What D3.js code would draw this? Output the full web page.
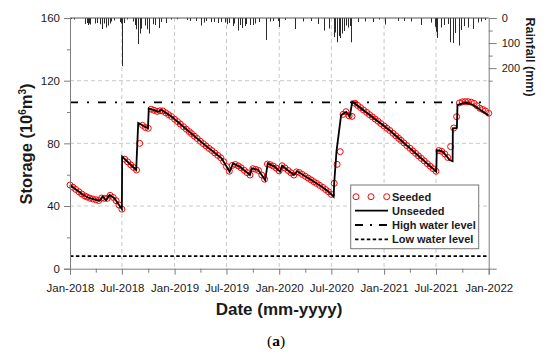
<!DOCTYPE html>
<html lang="en">
<head>
<meta charset="UTF-8">
<title>Reservoir storage and rainfall</title>
<script src="https://d3js.org/d3.v7.min.js"></script>
<style>
  body { margin: 0; background: #fff; }
  svg { display: block; font-family: "Liberation Sans", Arial, sans-serif; }
  .axis text { font-size: 11.5px; fill: #1a1a1a; }
  .axis path, .axis line { stroke: #7d7d7d; }
</style>
</head>
<body>
<svg id="chart" width="550" height="359"></svg>
<script>
// seeded storage, sampled on the 1st, 11th and 21st of each month (10^6 m3)
const sampleDays = [1, 11, 21];
const seeded2018 = [53.4, 52.0, 50.6, 49.1, 47.7, 46.5, 45.8, 45.0, 44.5, 44.0, 43.5, 45.1,
                    44.9, 44.9, 46.8, 45.5, 43.4, 40.7, 38.0, 69.9, 68.2, 66.3, 64.6, 63.0,
                    80.0, 91.5, 90.1, 89.6, 101.8, 101.1, 100.4, 100.8, 100.7, 99.5, 98.3, 97.1];
const seeded2019 = [95.4, 93.9, 92.3, 90.6, 89.0, 87.5, 86.2, 84.6, 83.1, 81.3, 79.8, 78.3,
                    76.8, 75.4, 73.9, 72.3, 70.8, 68.3, 65.2, 62.2, 65.9, 66.5, 65.6, 64.4,
                    62.8, 61.3, 59.8, 63.8, 63.4, 62.7, 59.8, 57.1, 66.8, 66.4, 65.5, 64.3];
const seeded2020 = [62.5, 65.7, 64.3, 62.7, 61.2, 59.8, 61.8, 61.4, 60.2, 59.0, 57.8, 56.7,
                    55.5, 54.4, 53.2, 51.9, 50.5, 49.1, 47.4, 54.5, 66.6, 74.7, 98.5, 100.2,
                    97.5, 97.2, 105.6, 104.2, 102.8, 101.3, 99.8, 98.3, 96.9, 95.5, 94.1, 92.6];
const seeded2021 = [91.1, 89.6, 88.2, 86.4, 84.8, 83.2, 81.9, 80.3, 78.6, 76.9, 75.2, 73.6,
                    72.0, 70.4, 68.8, 67.0, 65.4, 63.8, 62.2, 75.4, 74.9, 73.2, 71.0, 77.9,
                    89.8, 97.0, 105.8, 106.5, 106.6, 106.6, 106.3, 105.5, 104.0, 102.4, 101.6, 100.6];
const seededLast = 99.2; // 2022-01-01

// unseeded storage, break points of the line
const unseededDates = ["2018-01-01","2018-02-16","2018-03-10","2018-04-14","2018-04-25","2018-05-07",
  "2018-05-19","2018-06-05","2018-07-01","2018-07-02","2018-08-20","2018-08-27","2018-09-30","2018-10-03",
  "2018-11-04","2018-11-16","2018-12-22","2019-04-16","2019-06-14","2019-07-12","2019-07-24","2019-08-17",
  "2019-09-21","2019-09-27","2019-10-20","2019-11-13","2019-11-22","2019-12-17","2020-01-04","2020-01-11",
  "2020-02-21","2020-03-03","2020-05-29","2020-06-22","2020-07-09","2020-07-11","2020-07-19","2020-08-04",
  "2020-08-22","2020-09-03","2020-09-12","2021-01-19","2021-07-02","2021-07-04","2021-07-25","2021-08-18",
  "2021-08-28","2021-08-29","2021-09-12","2021-09-14","2021-10-10","2021-11-05","2022-01-01"];
const unseededValues = [53.4, 47, 45, 43.4, 46, 43.8,
  47, 45, 38, 71.5, 63, 93, 89.6, 102.3,
  100.2, 101.3, 97, 79, 70.4, 61.9, 67.2, 65,
  59.8, 64, 63, 56.6, 67.2, 65, 62, 65.7,
  59.8, 62.3, 52.3, 49, 46, 55, 75, 98,
  100, 97, 106.6, 88.5, 62, 75.7, 74.7, 69.4,
  68.6, 89.6, 89.8, 104.5, 106, 104.8, 97.8];

const highWater = 106.2;
const lowWater = 8;

// daily rainfall events (mm)
const rainDates = ["2018-01-05","2018-01-15","2018-02-24","2018-02-28","2018-03-04","2018-03-10","2018-03-13",
  "2018-03-30","2018-04-06","2018-04-14","2018-04-22","2018-04-29","2018-05-08","2018-05-13","2018-05-19",
  "2018-05-24","2018-06-05","2018-06-24","2018-06-28","2018-07-01","2018-07-08","2018-07-20","2018-08-08",
  "2018-08-16","2018-08-21","2018-08-25","2018-08-28","2018-09-01","2018-09-07","2018-09-18","2018-09-28",
  "2018-10-05","2018-10-17","2018-10-25","2018-11-08","2018-11-16","2018-12-03","2018-12-20",
  "2019-01-10","2019-02-12","2019-02-23","2019-03-17","2019-04-04","2019-04-13","2019-04-21","2019-05-08",
  "2019-05-20","2019-06-01","2019-06-13","2019-06-27","2019-07-03","2019-07-11","2019-07-23","2019-07-29",
  "2019-08-10","2019-08-18","2019-08-25","2019-09-03","2019-09-08","2019-09-20","2019-10-01","2019-10-07",
  "2019-10-21","2019-11-17","2019-11-29","2019-12-10","2019-12-28",
  "2020-01-02","2020-01-20","2020-02-24","2020-03-23","2020-04-21","2020-05-14","2020-06-07","2020-06-24",
  "2020-07-09","2020-07-14","2020-07-20","2020-07-26","2020-08-01","2020-08-07","2020-08-13","2020-08-20",
  "2020-08-28","2020-09-03","2020-09-07","2020-10-02","2020-10-25","2020-11-24","2020-12-15",
  "2021-01-04","2021-02-20","2021-03-13","2021-04-05","2021-05-10","2021-06-14","2021-06-26","2021-07-01",
  "2021-07-04","2021-07-18","2021-07-30","2021-08-11","2021-08-20","2021-08-28","2021-09-06","2021-09-19",
  "2021-09-27","2021-10-08","2021-10-20","2021-11-07","2021-11-24","2021-12-06","2021-12-20"];
const rainMm = [4, 6, 24, 20, 28, 22, 26,
  22, 20, 25, 44, 22, 38, 30, 22,
  14, 10, 16, 22, 192, 20, 6, 14,
  28, 45, 70, 104, 62, 42, 30, 45,
  62, 25, 28, 40, 16, 20, 6,
  5, 8, 12, 12, 30, 18, 12, 16,
  16, 20, 16, 18, 25, 20, 32, 22,
  50, 28, 40, 32, 24, 28, 28, 22,
  16, 88, 14, 12, 12,
  36, 8, 44, 14, 12, 24, 50, 42,
  76, 58, 97, 72, 80, 62, 52, 30,
  38, 32, 97, 16, 14, 16, 6,
  26, 12, 12, 14, 28, 18, 35, 55,
  80, 38, 28, 24, 97, 100, 60, 110,
  48, 32, 38, 44, 18, 14, 8];

const yTicks = [0, 40, 80, 120, 160];
const yMinor = [20, 60, 100, 140];
const rainTicks = [0, 100, 200];
const rainMinor = [50, 150, 250];

const parse = d3.utcParse("%Y-%m-%d");
const seededAll = [...seeded2018, ...seeded2019, ...seeded2020, ...seeded2021];
const seeded = [];
seededAll.forEach((v, i) => {
  const m = Math.floor(i / 3);
  seeded.push({ date: new Date(Date.UTC(2018, m, sampleDays[i % 3])), value: v });
});
seeded.push({ date: new Date(Date.UTC(2022, 0, 1)), value: seededLast });
const unseeded = unseededDates.map((d, i) => ({ date: parse(d), value: unseededValues[i] }));
const rain = rainDates.map((d, i) => ({ date: parse(d), mm: rainMm[i] }));

const pLeft = 70, pRight = 488.7, pTop = 18, pBottom = 268.7;
const svg = d3.select("#chart");

const x = d3.scaleUtc().domain([new Date(Date.UTC(2018, 0, 1)), new Date(Date.UTC(2022, 0, 1))]).range([pLeft, pRight]);
const y = d3.scaleLinear().domain([0, 160]).range([pBottom, pTop]);
const yRain = d3.scaleLinear().domain([0, 1000]).range([pTop, pBottom]);

const halfYears = d3.utcMonth.every(6).range(x.domain()[0], new Date(Date.UTC(2022, 0, 2)));
const quarters = d3.utcMonth.every(3).range(x.domain()[0], new Date(Date.UTC(2022, 0, 2)))
  .filter(d => d.getUTCMonth() % 6 !== 0);

// grid
const grid = svg.append("g").attr("stroke", "#c9c9c9").attr("stroke-dasharray", "4,3").attr("stroke-width", 1);
grid.selectAll(".gx").data(halfYears.slice(1, -1)).join("line")
  .attr("x1", d => x(d)).attr("x2", d => x(d)).attr("y1", pTop).attr("y2", pBottom);
grid.selectAll(".gy").data(yTicks.slice(1, -1)).join("line")
  .attr("x1", pLeft).attr("x2", pRight).attr("y1", d => y(d)).attr("y2", d => y(d));

// water levels
svg.append("line").attr("x1", pLeft).attr("x2", pRight).attr("y1", y(highWater)).attr("y2", y(highWater))
  .attr("stroke", "#000").attr("stroke-width", 1.8).attr("stroke-dasharray", "8,9,2,9");
svg.append("line").attr("x1", pLeft).attr("x2", pRight).attr("y1", y(lowWater)).attr("y2", y(lowWater))
  .attr("stroke", "#000").attr("stroke-width", 1.7).attr("stroke-dasharray", "3.5,2.4");

// rainfall bars
svg.append("g").selectAll("line").data(rain).join("line")
  .attr("x1", d => Math.round(x(d.date)) + 0.5).attr("x2", d => Math.round(x(d.date)) + 0.5)
  .attr("y1", pTop).attr("y2", d => yRain(d.mm))
  .attr("stroke", "#2a2a2a").attr("stroke-width", 1);

// seeded circles
svg.append("g").selectAll("circle").data(seeded).join("circle")
  .attr("cx", d => x(d.date)).attr("cy", d => y(d.value)).attr("r", 3)
  .attr("fill", "none").attr("stroke", "#ff0000").attr("stroke-width", 1);

// unseeded line
svg.append("path").datum(unseeded)
  .attr("d", d3.line().x(d => x(d.date)).y(d => y(d.value)))
  .attr("fill", "none").attr("stroke", "#000").attr("stroke-width", 1.8);

// axes
svg.append("g").attr("class", "axis").attr("transform", `translate(${pLeft},0)`)
  .call(d3.axisLeft(y).tickValues(yTicks).tickSize(6).tickPadding(4));
svg.append("g").attr("class", "axis").attr("transform", `translate(${pLeft},0)`)
  .call(d3.axisLeft(y).tickValues(yMinor).tickSize(3).tickFormat("")).select(".domain").remove();

svg.append("g").attr("class", "axis").attr("transform", `translate(0,${pBottom})`)
  .call(d3.axisBottom(x).tickValues(halfYears).tickSize(6).tickPadding(9).tickFormat(d3.utcFormat("%b-%Y")));
svg.append("g").attr("class", "axis").attr("transform", `translate(0,${pBottom})`)
  .call(d3.axisBottom(x).tickValues(quarters).tickSize(4).tickFormat("")).select(".domain").remove();

svg.append("g").attr("class", "axis").attr("transform", `translate(${pRight},0)`)
  .call(d3.axisRight(yRain).tickValues(rainTicks).tickSize(8).tickPadding(5))
  .selectAll("text").style("font-size", "11px");
svg.append("g").attr("class", "axis").attr("transform", `translate(${pRight},0)`)
  .call(d3.axisRight(yRain).tickValues(rainMinor).tickSize(4).tickFormat("")).select(".domain").remove();

// top border (rainfall baseline)
svg.append("line").attr("x1", pLeft).attr("x2", pRight).attr("y1", pTop).attr("y2", pTop)
  .attr("stroke", "#555").attr("stroke-width", 1);

// titles
svg.append("text").attr("transform", "translate(32,144) rotate(-90)")
  .attr("text-anchor", "middle").attr("font-weight", "bold").attr("font-size", 16.5).attr("fill", "#1a1a1a")
  .call(t => {
    t.append("tspan").text("Storage (10");
    t.append("tspan").text("6").attr("font-size", 10).attr("dy", -6);
    t.append("tspan").text("m").attr("dy", 6);
    t.append("tspan").text("3").attr("font-size", 10).attr("dy", -6);
    t.append("tspan").text(")").attr("dy", 6);
  });
svg.append("text").attr("transform", "translate(526,57) rotate(90)")
  .attr("text-anchor", "middle").attr("font-weight", "bold").attr("font-size", 12.5).attr("fill", "#1a1a1a")
  .text("Rainfall (mm)");
svg.append("text").attr("x", 279).attr("y", 315).attr("text-anchor", "middle")
  .attr("font-weight", "bold").attr("font-size", 17).attr("fill", "#1a1a1a").text("Date (mm-yyyy)");
svg.append("text").attr("x", 276).attr("y", 346).attr("text-anchor", "middle")
  .attr("font-family", "'Liberation Serif', 'Times New Roman', serif").attr("font-size", 15.5).attr("fill", "#000")
  .call(t => {
    t.append("tspan").text("(");
    t.append("tspan").text("a").attr("font-weight", "bold");
    t.append("tspan").text(")");
  });

// legend
const lg = svg.append("g");
lg.append("rect").attr("x", 350.7).attr("y", 185).attr("width", 128).attr("height", 63.7)
  .attr("fill", "#fff").attr("stroke", "#777").attr("stroke-width", 1);
const rows = [196.7, 210.7, 225, 239.3];
[356, 371, 386.7].forEach(cx => lg.append("circle").attr("cx", cx).attr("cy", rows[0]).attr("r", 3)
  .attr("fill", "none").attr("stroke", "#ff0000").attr("stroke-width", 1));
lg.append("line").attr("x1", 355).attr("x2", 388).attr("y1", rows[1]).attr("y2", rows[1])
  .attr("stroke", "#000").attr("stroke-width", 1.8);
lg.append("line").attr("x1", 355).attr("x2", 389).attr("y1", rows[2]).attr("y2", rows[2])
  .attr("stroke", "#000").attr("stroke-width", 1.8).attr("stroke-dasharray", "8,7,2,7");
lg.append("line").attr("x1", 355).attr("x2", 389).attr("y1", rows[3]).attr("y2", rows[3])
  .attr("stroke", "#000").attr("stroke-width", 1.7).attr("stroke-dasharray", "3.5,2.4");
["Seeded", "Unseeded", "High water level", "Low water level"].forEach((s, i) =>
  lg.append("text").attr("x", 392).attr("y", rows[i] + 4).attr("font-size", 11).attr("font-weight", "bold")
    .attr("fill", "#1a1a1a").text(s));
</script>
</body>
</html>
